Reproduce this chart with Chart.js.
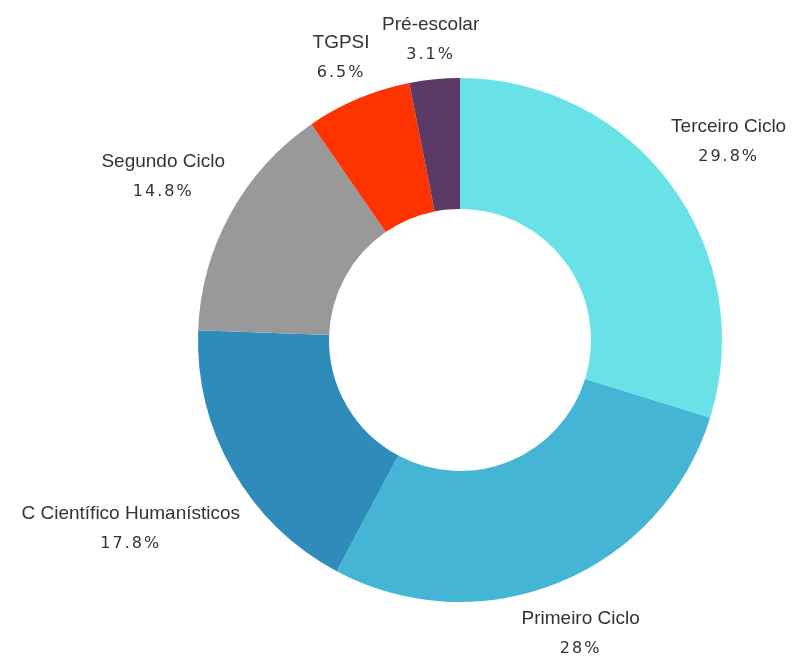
<!DOCTYPE html>
<html>
<head>
<meta charset="utf-8">
<script src="https://cdn.jsdelivr.net/npm/chart.js@4"></script>
<style>
  html, body { margin: 0; padding: 0; background: #fff; }
  #wrap { width: 800px; height: 657px; }
</style>
</head>
<body>
<div id="wrap"><canvas id="donut"></canvas></div>
<script>
const categories = ['Terceiro Ciclo', 'Primeiro Ciclo', 'C Científico Humanísticos', 'Segundo Ciclo', 'TGPSI', 'Pré-escolar'];
const shares = [29.8, 28, 17.8, 14.8, 6.5, 3.1];
const sliceColors = ['#68e2e6', '#44b5d5', '#2e8bba', '#999999', '#ff3300', '#5b3a66'];

const nameFont = '19px "Liberation Sans", Arial, sans-serif';
const pctFont = '16px "DejaVu Sans", sans-serif';

// name + percent placed outside each slice, pushed out along the slice middle
const outsideLabels = {
    id: 'outsideLabels',
    afterDatasetsDraw(chart) {
        const ctx = chart.ctx;
        const meta = chart.getDatasetMeta(0);
        meta.data.forEach((arc, i) => {
            const mid = (arc.startAngle + arc.endAngle) / 2;
            const dx = Math.cos(mid), dy = Math.sin(mid);
            const name = categories[i];
            const pct = shares[i] + '%';

            ctx.save();
            ctx.font = nameFont;
            const w1 = ctx.measureText(name).width;
            ctx.font = pctFont;
            ctx.letterSpacing = '2px';
            const w2 = ctx.measureText(pct).width;
            const hw = Math.max(w1, w2) / 2;
            const hh = 24;
            const reach = arc.outerRadius + 11 + Math.abs(dx) * hw + Math.abs(dy) * hh;
            const x = arc.x + dx * reach;
            const y = arc.y + dy * reach;

            ctx.fillStyle = '#333333';
            ctx.textAlign = 'center';
            ctx.textBaseline = 'middle';
            ctx.fillText(pct, x, y + 15);
            ctx.letterSpacing = '0px';
            ctx.font = nameFont;
            ctx.fillText(name, x, y - 15);
            ctx.restore();
        });
    }
};

new Chart(document.getElementById('donut'), {
    type: 'doughnut',
    data: {
        labels: categories,
        datasets: [{
            data: shares,
            backgroundColor: sliceColors,
            borderWidth: 0,
            hoverOffset: 0
        }]
    },
    options: {
        responsive: true,
        maintainAspectRatio: false,
        animation: false,
        cutout: '50%',
        layout: {
            padding: { left: 198, right: 78, top: 78, bottom: 55 }
        },
        plugins: {
            legend: { display: false },
            tooltip: { enabled: false }
        }
    },
    plugins: [outsideLabels]
});
</script>
</body>
</html>
